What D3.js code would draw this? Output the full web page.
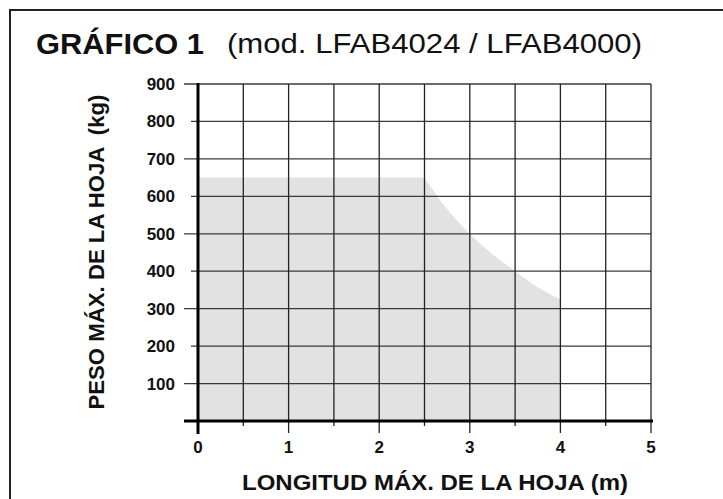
<!DOCTYPE html>
<html><head><meta charset="utf-8">
<script src="https://cdn.jsdelivr.net/npm/d3@7"></script>
<style>html,body{margin:0;padding:0;background:#fff;}svg{display:block;}</style>
</head><body>
<svg id="c" width="723" height="499"></svg>
<script>
// Data
const xTicks = [0, 1, 2, 3, 4, 5];
const xGrid = [0.5, 1, 1.5, 2, 2.5, 3, 3.5, 4, 4.5, 5];
const yTicks = [100, 200, 300, 400, 500, 600, 700, 800, 900];
const flatLength = [0, 2.5];
const flatWeight = [650, 650];
const curveLength = [2.5, 2.64, 3, 3.25, 3.5, 3.75, 4];
const curveWeight = [650, 600, 500, 445, 400, 357, 325];

const svg = d3.select("#c");
const x = d3.scaleLinear().domain([0, 5]).range([198, 651]);
const y = d3.scaleLinear().domain([0, 900]).range([421, 84]);
const font = "'Liberation Sans', Arial, Helvetica, sans-serif";

// frame
svg.append("path").attr("d", "M10,499V10H723").attr("fill", "none").attr("stroke", "#222").attr("stroke-width", 2);

// title
svg.append("text").attr("x", 36).attr("y", 54).attr("font-family", font).attr("font-weight", "bold")
  .attr("font-size", 29).attr("textLength", 168).attr("lengthAdjust", "spacingAndGlyphs").attr("fill", "#111").text("GRÁFICO 1");
svg.append("text").attr("x", 227).attr("y", 53).attr("font-family", font)
  .attr("font-size", 27).attr("textLength", 415).attr("lengthAdjust", "spacingAndGlyphs").attr("fill", "#111").text("(mod. LFAB4024 / LFAB4000)");

// area
const curveLine = d3.line().x((d, i) => x(curveLength[i])).y((d, i) => y(curveWeight[i])).curve(d3.curveMonotoneX);
const curvePath = curveLine(curveLength).replace(/^M/, "L");
const areaPath = "M" + x(flatLength[0]) + "," + y(0) +
  "L" + x(flatLength[0]) + "," + y(flatWeight[0]) +
  "L" + x(flatLength[1]) + "," + y(flatWeight[1]) +
  curvePath +
  "L" + x(curveLength[curveLength.length - 1]) + "," + y(0) + "Z";
svg.append("path").attr("d", areaPath).attr("fill", "#e2e2e2");

// horizontal grid
svg.selectAll("line.h").data(yTicks).join("line").attr("class", "h")
  .attr("x1", d => (d / 100) % 2 === 1 ? 184 : 191).attr("x2", x(5))
  .attr("y1", d => y(d)).attr("y2", d => y(d))
  .attr("stroke", "#3a3a3a").attr("stroke-width", 1.3);

// vertical grid
svg.selectAll("line.v").data(xGrid).join("line").attr("class", "v")
  .attr("x1", d => x(d)).attr("x2", d => x(d))
  .attr("y1", y(900)).attr("y2", d => Number.isInteger(d) ? 433 : 426)
  .attr("stroke", "#222").attr("stroke-width", 1.3);

// axes
svg.append("line").attr("x1", x(0)).attr("x2", x(0)).attr("y1", y(900) - 1).attr("y2", 434)
  .attr("stroke", "#000").attr("stroke-width", 3);
svg.append("line").attr("x1", 184).attr("x2", x(5) + 2).attr("y1", y(0)).attr("y2", y(0))
  .attr("stroke", "#000").attr("stroke-width", 3);

// tick labels
svg.selectAll("text.yt").data(yTicks).join("text").attr("class", "yt")
  .attr("x", 175).attr("y", d => y(d) + 6).attr("text-anchor", "end")
  .attr("font-family", font).attr("font-weight", "bold").attr("font-size", 17).attr("fill", "#111")
  .text(d => d);
svg.selectAll("text.xt").data(xTicks).join("text").attr("class", "xt")
  .attr("x", d => x(d)).attr("y", 453).attr("text-anchor", "middle")
  .attr("font-family", font).attr("font-weight", "bold").attr("font-size", 17).attr("fill", "#111")
  .text(d => d);

// axis titles
svg.append("text").attr("x", 435).attr("y", 490).attr("text-anchor", "middle")
  .attr("font-family", font).attr("font-weight", "bold").attr("font-size", 22)
  .attr("textLength", 386).attr("lengthAdjust", "spacingAndGlyphs").attr("fill", "#111")
  .text("LONGITUD MÁX. DE LA HOJA (m)");
svg.append("text").attr("transform", "translate(104,252) rotate(-90)").attr("text-anchor", "middle")
  .attr("font-family", font).attr("font-weight", "bold").attr("font-size", 22)
  .attr("textLength", 315).attr("lengthAdjust", "spacingAndGlyphs").attr("fill", "#111")
  .attr("xml:space", "preserve").style("white-space", "pre")
  .text("PESO MÁX. DE LA HOJA  (kg)");
</script>
</body></html>
